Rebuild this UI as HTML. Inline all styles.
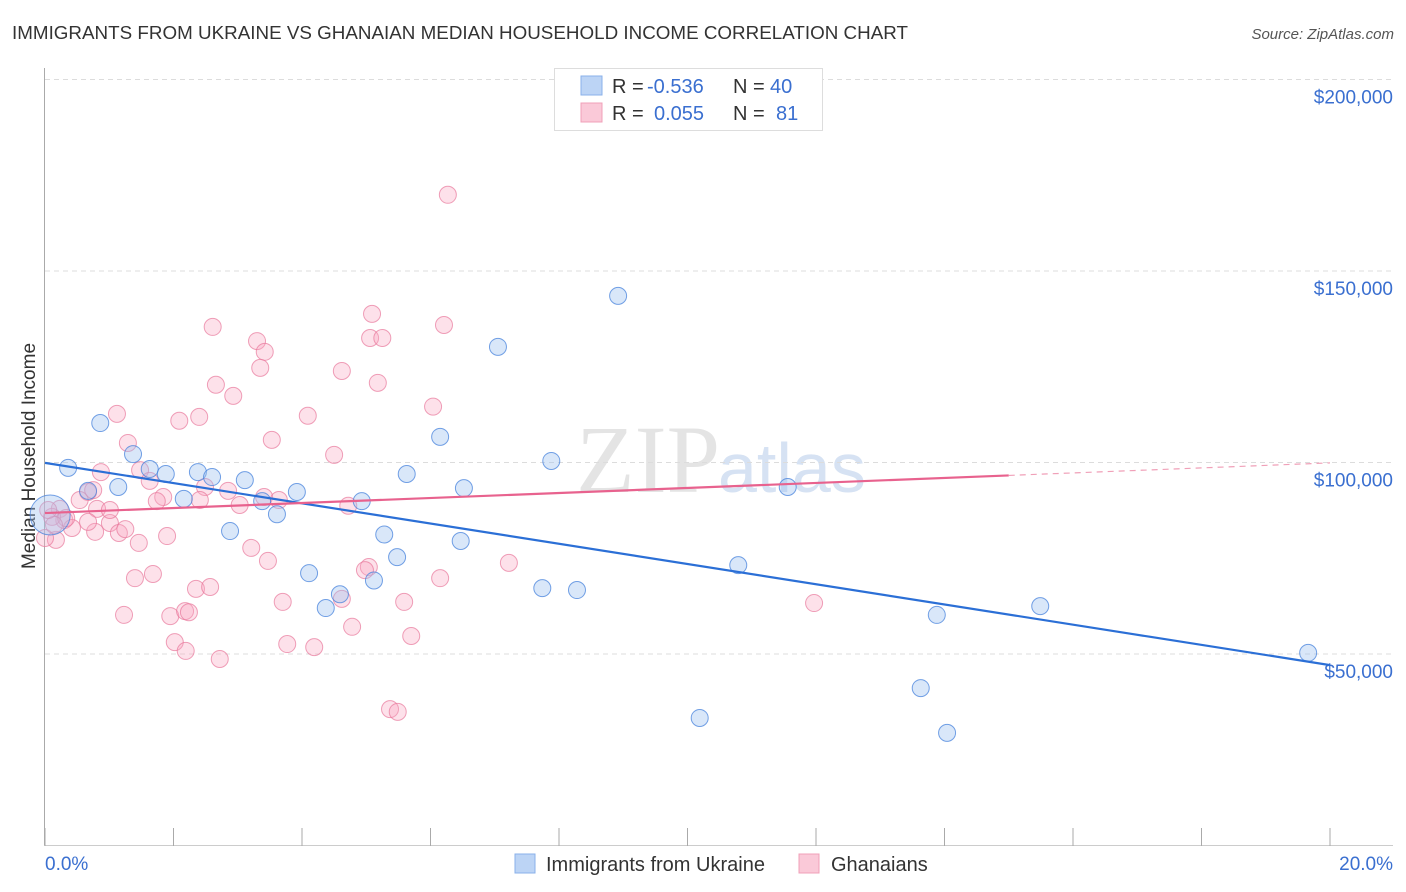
<!DOCTYPE html>
<html><head><meta charset="utf-8"><style>
body{margin:0;background:#fff;font-family:"Liberation Sans",sans-serif;}
svg{display:block}
</style></head><body>
<svg id="c" width="1406" height="892" xmlns="http://www.w3.org/2000/svg">
<text x="12" y="39" font-size="18.8" fill="#333" textLength="896">IMMIGRANTS FROM UKRAINE VS GHANAIAN MEDIAN HOUSEHOLD INCOME CORRELATION CHART</text>
<text x="1394" y="39" font-size="15" font-style="italic" fill="#555" text-anchor="end">Source: ZipAtlas.com</text>
<text x="35" y="456" font-size="19" fill="#333" text-anchor="middle" transform="rotate(-90 35 456)">Median Household Income</text>
<text x="720" y="492" font-size="96" font-family="Liberation Serif,serif" fill="#e4e4e4" text-anchor="end">ZIP</text>
<text x="718" y="492" font-size="70" fill="#d6e2f3">atlas</text>
<g id="grid"></g><g id="marks"></g><g id="lines"></g>
<g>
<rect x="554.5" y="68.5" width="268" height="62" fill="#fff" stroke="#ddd"/>
<rect x="581" y="76" width="21" height="19" fill="#bcd4f5" stroke="#8ab0ea"/>
<rect x="581" y="103" width="21" height="19" fill="#fac9d8" stroke="#f0a0b8"/>
<text x="612" y="93" font-size="20" fill="#333">R =</text>
<text x="647" y="93" font-size="20" fill="#3a6fd0">-0.536</text>
<text x="733" y="93" font-size="20" fill="#333">N =</text>
<text x="770" y="93" font-size="20" fill="#3a6fd0">40</text>
<text x="612" y="120" font-size="20" fill="#333">R =</text>
<text x="654" y="120" font-size="20" fill="#3a6fd0">0.055</text>
<text x="733" y="120" font-size="20" fill="#333">N =</text>
<text x="776" y="120" font-size="20" fill="#3a6fd0">81</text>
</g>
<g>
<rect x="515" y="854" width="20" height="19" fill="#bcd4f5" stroke="#8ab0ea"/>
<text x="546" y="871" font-size="20" fill="#333">Immigrants from Ukraine</text>
<rect x="799" y="854" width="20" height="19" fill="#fac9d8" stroke="#f0a0b8"/>
<text x="831" y="871" font-size="20" fill="#333">Ghanaians</text>
</g>
</svg>
<script>
const yTicks=[50000,100000,150000,200000];
const yTickLabels=["$50,000","$100,000","$150,000","$200,000"];
const xTicks=[0,2,4,6,8,10,12,14,16,18,20];
const ukraineX=[0.36,0.86,0.67,1.14,1.37,1.63,1.88,2.16,2.38,2.60,2.88,3.11,3.38,3.61,3.92,4.11,4.37,4.59,4.93,5.12,5.28,5.48,5.63,6.15,6.47,6.52,7.05,7.74,7.88,8.28,8.92,10.19,10.79,11.56,13.63,13.88,14.04,15.49,19.66,0.08];
const ukraineY=[98.6,110.3,92.6,93.6,102.2,98.3,97.0,90.5,97.5,96.2,82.1,95.4,89.9,86.5,92.3,71.1,62.0,65.6,89.9,69.2,81.2,75.3,97.0,106.7,79.5,93.3,130.2,67.2,100.4,66.7,143.5,33.3,73.2,93.6,41.1,60.2,29.4,62.5,50.3,86.3];
const ghanaX=[6.27,2.61,5.09,6.21,3.30,5.06,5.25,3.42,3.35,4.62,2.66,5.18,2.93,1.12,2.40,2.09,4.09,6.04,1.29,3.53,4.50,0.87,1.48,1.63,2.49,2.85,3.41,3.64,4.72,1.84,1.74,0.67,0.54,0.23,0.30,0.11,0.17,0.0,0.42,0.78,1.01,1.15,1.25,0.81,1.01,0.33,1.46,1.90,3.21,3.47,5.04,4.98,1.40,1.68,2.35,2.57,6.15,7.22,1.23,1.95,2.18,2.24,3.70,5.59,4.62,4.78,5.70,11.97,2.02,2.19,2.72,3.77,4.19,5.37,5.49,0.75,0.14,0.67,0.05,3.03,2.41];
const ghanaY=[169.9,135.4,138.8,135.9,131.7,132.5,132.5,128.9,124.7,123.9,120.3,120.8,117.4,112.7,111.9,110.9,112.2,114.6,105.1,105.9,102.0,97.5,98.0,95.2,93.6,92.6,91.0,90.2,88.7,91.0,89.9,92.3,90.2,87.9,85.0,85.8,79.8,80.3,82.9,81.9,84.2,81.6,82.6,87.9,87.6,85.5,79.0,80.8,77.7,74.3,72.7,71.9,69.8,70.9,67.0,67.5,69.8,73.8,60.2,59.9,61.2,60.9,63.6,63.6,64.4,57.1,54.7,63.3,53.1,50.8,48.7,52.6,51.8,35.6,34.9,92.8,83.7,84.5,87.6,88.9,90.2];
const ukraineTrend=[99.9,47.1];
const ghanaTrend=[86.8,99.9];
const NS="http://www.w3.org/2000/svg";
const X=p=>45+(p/20)*1285;
const Y=v=>845.5-v/50000*191.5;
const Yk=v=>Y(v*1000);
function mk(t,a,parent){const e=document.createElementNS(NS,t);for(const k in a)e.setAttribute(k,a[k]);document.getElementById(parent).appendChild(e);return e;}
yTicks.forEach((v,i)=>{
 const g=mk('line',{x1:45,x2:1393,y1:Y(v),y2:Y(v),stroke:'#dcdcdc','stroke-dasharray':'5,4'},'grid');
 
 
 const t=mk('text',{x:1393,y:Y(v)+24,'font-size':19,fill:'#3a6fd0','text-anchor':'end'},'grid');
 t.textContent=yTickLabels[i];
 
 
});
const ax=mk('line',{x1:44.5,x2:44.5,y1:68,y2:846,stroke:'#aaa'},'grid');


const bx=mk('line',{x1:44,x2:1393,y1:845.5,y2:845.5,stroke:'#ccc'},'grid');


xTicks.forEach(p=>{
 const l=mk('line',{x1:X(p),x2:X(p),y1:828,y2:846,stroke:'#aaa'},'grid');
 
 
});
const x0=mk('text',{x:45,y:870,'font-size':19,fill:'#3a6fd0'},'grid');x0.textContent=xTicks[0].toFixed(1)+'%';


const x1=mk('text',{x:1393,y:870,'font-size':19,fill:'#3a6fd0','text-anchor':'end'},'grid');x1.textContent=xTicks[xTicks.length-1].toFixed(1)+'%';


ghanaX.forEach((p,i)=>{
 const c=mk('circle',{cx:X(p),cy:Yk(ghanaY[i]),r:8.5,fill:'rgba(248,170,195,0.35)',stroke:'rgba(232,120,155,0.7)','stroke-width':1},'marks');
 
 
});
ukraineX.forEach((p,i)=>{
 const big=i===ukraineX.length-1;
 const c=mk('circle',{cx:X(p),cy:Yk(ukraineY[i]),r:big?20:8.5,fill:'rgba(160,195,240,0.4)',stroke:'rgba(70,130,220,0.75)','stroke-width':1},'marks');
 
 
});
const bl=mk('line',{x1:X(0),y1:Yk(ukraineTrend[0]),x2:X(20),y2:Yk(ukraineTrend[1]),stroke:'#2b6fd6','stroke-width':2.2},'lines');


const gy=x=>ghanaTrend[0]+(ghanaTrend[1]-ghanaTrend[0])*x/20;
const pl=mk('line',{x1:X(0),y1:Yk(gy(0)),x2:X(15),y2:Yk(gy(15)),stroke:'#e8628e','stroke-width':2.2},'lines');


const pd=mk('line',{x1:X(15),y1:Yk(gy(15)),x2:X(20),y2:Yk(gy(20)),stroke:'#f0a0b8','stroke-width':1.2,'stroke-dasharray':'6,5'},'lines');


</script>
</body></html>
